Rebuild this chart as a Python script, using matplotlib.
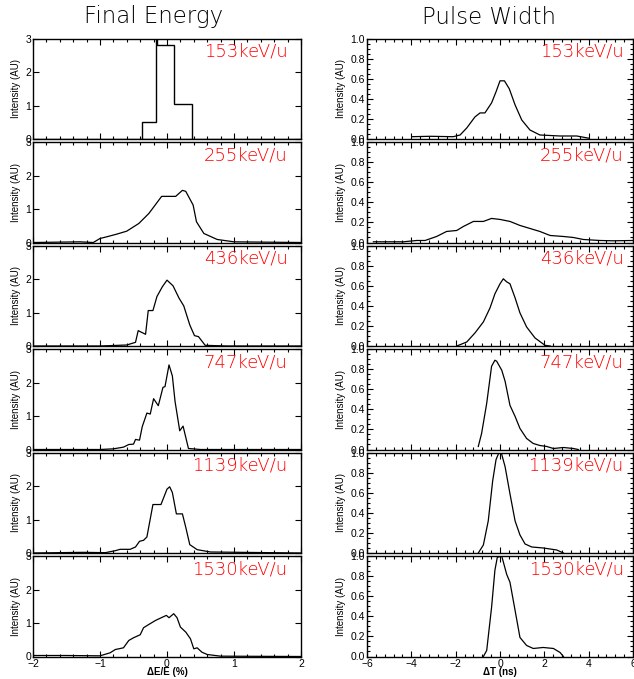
import numpy as np
import matplotlib
matplotlib.use("Agg")
import matplotlib.pyplot as plt
from matplotlib.ticker import MultipleLocator, FormatStrFormatter

W, H = 634, 679

energies = ["153keV/u", "255keV/u", "436keV/u", "747keV/u", "1139keV/u", "1530keV/u"]

# Final energy, 153 keV/u is a histogram (edges, counts)
e153_edges = [-0.37, -0.16, -0.15, 0.10, 0.38]
e153_vals = [0.5, 3.2, 2.8, 1.05]

# Final energy profiles (dE/E %, intensity)
e255_x = [-2.0, -1.3, -1.1, -1.0, -0.90, -0.75, -0.60, -0.42, -0.27, -0.08, 0.13, 0.23, 0.28,
          0.39, 0.44, 0.55, 0.75, 1.0, 2.0]
e255_y = [0.0, 0.02, 0.0, 0.12, 0.17, 0.25, 0.34, 0.57, 0.87, 1.38, 1.38, 1.56, 1.53,
          1.12, 0.62, 0.27, 0.09, 0.02, 0.0]
e436_x = [-2.0, -1.0, -0.60, -0.47, -0.43, -0.32, -0.28, -0.21, -0.15, -0.07, 0.0, 0.09, 0.18,
          0.25, 0.34, 0.41, 0.47, 0.57, 0.9, 2.0]
e436_y = [0.0, 0.0, 0.03, 0.11, 0.46, 0.35, 1.06, 1.06, 1.48, 1.77, 1.97, 1.80, 1.43,
          1.20, 0.63, 0.31, 0.28, 0.02, 0.0, 0.0]
e747_x = [-2.0, -1.0, -0.80, -0.65, -0.57, -0.50, -0.47, -0.41, -0.37, -0.30, -0.25, -0.20,
          -0.13, -0.06, -0.03, 0.03, 0.08, 0.12, 0.19, 0.24, 0.32, 0.50, 2.0]
e747_y = [0.0, 0.0, 0.02, 0.07, 0.15, 0.16, 0.30, 0.28, 0.68, 1.09, 1.06, 1.52,
          1.31, 1.86, 1.88, 2.53, 2.20, 1.44, 0.56, 0.70, 0.03, 0.0, 0.0]
e1139_x = [-2.0, -1.25, -0.92, -0.77, -0.70, -0.55, -0.47, -0.41, -0.35, -0.30, -0.21, -0.09,
           0.0, 0.04, 0.08, 0.14, 0.23, 0.28, 0.34, 0.45, 0.65, 2.0]
e1139_y = [0.0, 0.02, 0.01, 0.07, 0.11, 0.11, 0.18, 0.35, 0.38, 0.48, 1.45, 1.45,
           1.91, 1.98, 1.81, 1.17, 1.17, 0.77, 0.25, 0.10, 0.03, 0.0]
e1530_x = [-2.0, -1.5, -1.0, -0.85, -0.77, -0.72, -0.65, -0.57, -0.50, -0.40, -0.35, -0.27,
           -0.17, -0.01, 0.03, 0.10, 0.15, 0.20, 0.28, 0.35, 0.40, 0.45, 0.52, 0.60, 0.8, 2.0]
e1530_y = [0.03, 0.03, 0.02, 0.11, 0.21, 0.23, 0.26, 0.48, 0.56, 0.65, 0.86, 0.96,
           1.08, 1.23, 1.16, 1.28, 1.16, 0.88, 0.73, 0.53, 0.23, 0.26, 0.13, 0.06, 0.01, 0.0]

# Pulse width profiles (dT ns, intensity)
t153_x = [-3.98, -3.16, -2.11, -1.80, -1.50, -1.13, -0.90, -0.68, -0.38, -0.18, 0.0, 0.20,
          0.42, 0.68, 0.98, 1.35, 1.80, 2.71, 3.46, 4.03]
t153_y = [0.023, 0.027, 0.023, 0.04, 0.11, 0.22, 0.26, 0.26, 0.36, 0.47, 0.58, 0.58,
          0.50, 0.34, 0.19, 0.09, 0.04, 0.03, 0.03, 0.007]
t255_x = [-5.71, -4.36, -3.76, -3.38, -2.86, -2.41, -1.95, -1.65, -1.20, -0.75, -0.38, 0.0,
          0.45, 0.90, 1.35, 1.80, 2.26, 2.86, 3.31, 3.76, 4.51, 5.11, 6.0]
t255_y = [0.007, 0.007, 0.02, 0.02, 0.06, 0.11, 0.12, 0.16, 0.21, 0.21, 0.24, 0.23,
          0.21, 0.17, 0.14, 0.11, 0.07, 0.06, 0.05, 0.03, 0.02, 0.017, 0.02]
t436_x = [-1.95, -1.50, -1.13, -0.75, -0.45, -0.23, 0.0, 0.15, 0.30, 0.45, 0.68, 0.90,
          1.20, 1.58, 2.03, 2.26]
t436_y = [0.0, 0.04, 0.13, 0.24, 0.38, 0.52, 0.62, 0.67, 0.64, 0.62, 0.48, 0.33,
          0.19, 0.08, 0.007, 0.0]
t747_x = [-0.98, -0.83, -0.60, -0.38, -0.23, -0.15, 0.08, 0.23, 0.45, 0.68, 0.90, 1.20,
          1.50, 1.80, 2.11, 2.41, 2.86, 3.31, 3.53]
t747_y = [0.03, 0.16, 0.46, 0.83, 0.89, 0.88, 0.79, 0.68, 0.44, 0.33, 0.21, 0.11,
          0.06, 0.04, 0.03, 0.01, 0.02, 0.01, 0.0]
t1139_x = [-0.98, -0.75, -0.53, -0.33, -0.18, -0.05, 0.07, 0.23, 0.45, 0.68, 0.90, 1.13,
           1.43, 1.95, 2.56, 2.86]
t1139_y = [0.0, 0.08, 0.32, 0.72, 0.93, 1.0, 0.99, 0.86, 0.59, 0.32, 0.18, 0.09,
           0.06, 0.05, 0.03, 0.0]
t1530_x = [-0.75, -0.60, -0.38, -0.23, -0.12, 0.08, 0.30, 0.45, 0.68, 0.90, 1.20, 1.50,
           1.95, 2.41, 2.71, 2.86]
t1530_y = [0.0, 0.06, 0.49, 0.86, 0.99, 1.0, 0.82, 0.74, 0.46, 0.19, 0.11, 0.08,
           0.09, 0.08, 0.04, 0.0]

energy_curves = [None, (e255_x, e255_y), (e436_x, e436_y), (e747_x, e747_y),
                 (e1139_x, e1139_y), (e1530_x, e1530_y)]
pulse_curves = [(t153_x, t153_y), (t255_x, t255_y), (t436_x, t436_y), (t747_x, t747_y),
                (t1139_x, t1139_y), (t1530_x, t1530_y)]

plt.rcParams['font.family'] = ['Liberation Sans', 'DejaVu Sans']
fig = plt.figure(figsize=(W / 100, H / 100), dpi=100)


def px_axes(left, top, width, height):
    return fig.add_axes([left / W, 1 - (top + height) / H, width / W, height / H])


def style(ax, bottom):
    ax.tick_params(which='both', direction='in', top=True, right=True,
                   labelsize=7.5, pad=1.5, width=0.8)
    ax.tick_params(which='major', length=4)
    ax.tick_params(which='minor', length=2.5)
    ax.tick_params(axis='x', labelbottom=bottom)
    for s in ax.spines.values():
        s.set_linewidth(1.0)
    ax.set_ylabel('Intensity (AU)', fontsize=7, labelpad=3)


label_font = dict(family='DejaVu Sans', fontsize=13, color='#ff0000', fontweight='light')

step = 103.5
ph = 100.3
for i in range(6):
    top = 38.7 + i * step
    bottom = (i == 5)

    # left column: final energy
    ax = px_axes(33, top, 268, ph)
    if i == 0:
        ax.stairs(e153_vals, e153_edges, color='black', lw=1.0)
        ax.plot([-2, 2], [0, 0], color='black', lw=1.0)
    else:
        ax.plot(energy_curves[i][0], energy_curves[i][1], color='black', lw=0.9)
    ax.set_xlim(-2, 2)
    ax.set_ylim(0, 3)
    ax.xaxis.set_major_locator(MultipleLocator(1))
    ax.xaxis.set_minor_locator(MultipleLocator(0.2))
    ax.yaxis.set_major_locator(MultipleLocator(1))
    style(ax, bottom)
    ax.text(0.95, 0.87, energies[i], transform=ax.transAxes, ha='right', va='center',
            **label_font)
    if bottom:
        ax.set_xlabel('ΔE/E (%)', fontsize=7, labelpad=-1, fontweight='bold')

    # right column: pulse width
    ax = px_axes(367, top, 266, ph)
    ax.plot(pulse_curves[i][0], pulse_curves[i][1], color='black', lw=0.9)
    ax.set_xlim(-6, 6)
    ax.set_ylim(0, 1)
    ax.xaxis.set_major_locator(MultipleLocator(2))
    ax.xaxis.set_minor_locator(MultipleLocator(0.4))
    ax.yaxis.set_major_locator(MultipleLocator(0.2))
    ax.yaxis.set_minor_locator(MultipleLocator(0.05))
    ax.yaxis.set_major_formatter(FormatStrFormatter('%.1f'))
    style(ax, bottom)
    ax.text(0.965, 0.87, energies[i], transform=ax.transAxes, ha='right', va='center',
            **label_font)
    if bottom:
        ax.set_xlabel('ΔT (ns)', fontsize=7, labelpad=-1, fontweight='bold')

title_font = dict(fontsize=16.5, family='DejaVu Sans', color='black', fontweight='light')
fig.text(154 / W, 1 - 17 / H, 'Final Energy', ha='center', va='center', **title_font)
fig.text(489 / W, 1 - 17 / H, 'Pulse Width', ha='center', va='center', **title_font)

fig.savefig('out.png', dpi=100)
